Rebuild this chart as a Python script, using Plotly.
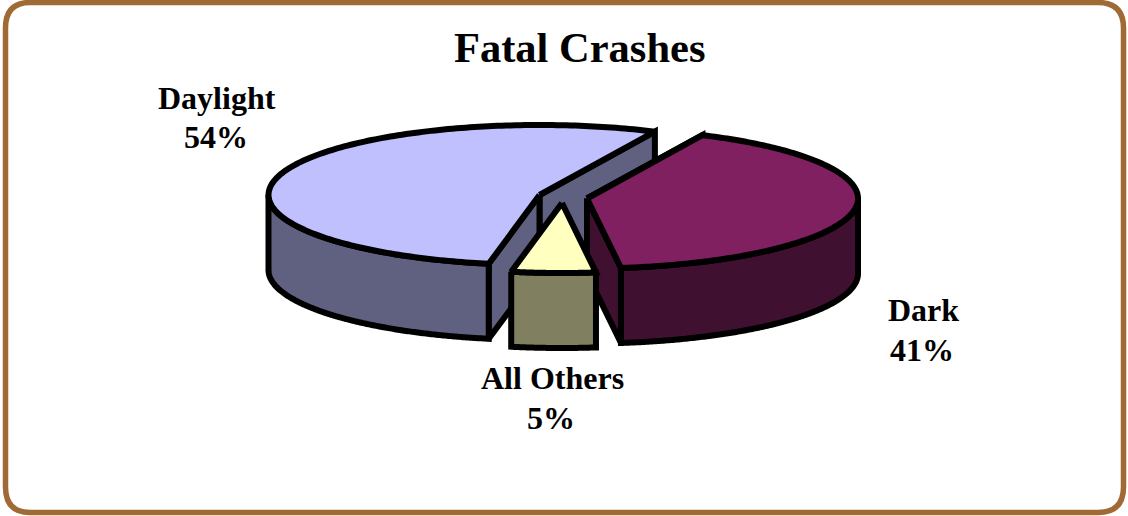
import numpy as np
import plotly.graph_objects as go

# Data
categories = ["Daylight", "All Others", "Dark"]
shares = [54, 5, 41]
title_text = "Fatal Crashes"

# Style
top_colors = ["#C0C0FF", "#FFFFC0", "#802060"]
wall_colors = ["#606080", "#808060", "#401030"]
apex_xy = [(539.5, 195), (562, 203), (587, 198.5)]
name_xy = [(216.5, 98), (552, 378), (923, 310)]
pct_xy = [(216, 137), (551, 418), (922, 350)]
draw_order = [0, 2, 1]
START_DEG, RX, RY, DEPTH = 64.8, 271, 70, 75
OUTLINE = 6

W, H = 1128, 516


def add_poly(fig, xs, ys, color):
    fig.add_trace(go.Scatter(
        x=list(xs) + [xs[0]], y=list(ys) + [ys[0]], mode="lines", fill="toself",
        fillcolor=color, line=dict(color="black", width=OUTLINE, simplify=False),
        hoverinfo="skip", showlegend=False))


def arc(cx, cy, a0, a1):
    t = np.radians(np.linspace(a0, a1, 200))
    return cx + RX * np.cos(t), cy - RY * np.sin(t)


# slice angles follow the shares
edges = START_DEG + np.r_[0, np.cumsum(shares)] * 3.6

fig = go.Figure()
for i in draw_order:
    share, top, wall = shares[i], top_colors[i], wall_colors[i]
    cx, cy = apex_xy[i]
    a0, a1 = edges[i], edges[i + 1]
    ax, ay = arc(cx, cy, a0, a1)
    if share > 10:
        # straight cut walls, back one first
        for c in sorted([a0, a1], key=lambda d: np.sin(np.radians(d)), reverse=True):
            ex, ey = arc(cx, cy, c, c)
            add_poly(fig, [cx, ex[0], ex[0], cx], [cy, ey[0], ey[0] + DEPTH, cy + DEPTH], wall)
    # outer curved wall: only the part facing the viewer (180..360 deg)
    lo, hi = max(a0, 180), min(a1, 360)
    if hi > lo:
        wx, wy = arc(cx, cy, lo, hi)
        add_poly(fig, np.r_[wx, wx[::-1]], np.r_[wy, wy[::-1] + DEPTH], wall)
    add_poly(fig, np.r_[cx, ax], np.r_[cy, ay], top)

annotations = [dict(x=579.5, y=47, xref="x", yref="y", text=f"<b>{title_text}</b>", showarrow=False,
                    font=dict(family="Liberation Serif", size=42.5, color="black"))]
for name, share, (nx, ny), (px, py) in zip(categories, shares, name_xy, pct_xy):
    for x, y, t in [(nx, ny, name), (px, py, f"{share}%")]:
        annotations.append(dict(
            x=x, y=y, xref="x", yref="y", text=f"<b>{t}</b>", showarrow=False,
            font=dict(family="Liberation Serif", size=32, color="black")))

fig.update_layout(
    width=W, height=H, margin=dict(l=0, r=0, t=0, b=0),
    paper_bgcolor="white", plot_bgcolor="rgba(0,0,0,0)",
    xaxis=dict(range=[0, W], visible=False, fixedrange=True),
    yaxis=dict(range=[H, 0], visible=False, fixedrange=True),
    annotations=annotations,
    shapes=[dict(type="path", xref="x", yref="y", layer="below",
                 path="M 30,2.5 L 1098,2.5 Q 1123.5,2.5 1123.5,28 L 1123.5,487 "
                      "Q 1123.5,512.5 1098,512.5 L 30,512.5 Q 5.5,512.5 5.5,487 L 5.5,28 Q 5.5,2.5 30,2.5 Z",
                 line=dict(color="#A06A35", width=5.5))],
)
fig.write_html("out.html", config=dict(displayModeBar=False),
               post_script="document.body.style.margin='0';document.body.style.overflow='hidden';")
